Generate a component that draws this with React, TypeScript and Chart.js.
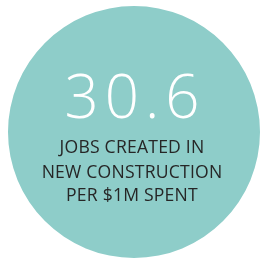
import React, { useEffect, useRef } from "react";
import { Chart, registerables } from "chart.js";

Chart.register(...registerables);

const headlineValue = [30.6];
const sliceLabels = ["Jobs created in new construction per $1M spent"];
const captionLines = ["JOBS CREATED IN", "NEW CONSTRUCTION", "PER $1M SPENT"];
const circleColor = "#8ecdc9";

const textPlugin = {
  id: "centerText",
  afterDraw(chart: any) {
    const ctx = chart.ctx as CanvasRenderingContext2D;
    const meta = chart.getDatasetMeta(0);
    const arc = meta.data[0];
    const cx = arc.x - 2;
    const cy = arc.y;
    ctx.save();
    ctx.textAlign = "center";
    ctx.textBaseline = "alphabetic";
    ctx.fillStyle = "#ffffff";
    ctx.font = "300 60px 'Open Sans'";
    (ctx as any).letterSpacing = "6px";
    ctx.fillText(headlineValue[0].toFixed(1), cx + 3, cy - 14);
    ctx.fillStyle = "#262626";
    ctx.font = "400 17.6px 'Open Sans'";
    (ctx as any).letterSpacing = "0.2px";
    const baselines = [21, 45.5, 69];
    captionLines.forEach((l, i) => ctx.fillText(l, cx, cy + baselines[i]));
    ctx.restore();
  },
};

export default function App() {
  const ref = useRef<HTMLCanvasElement>(null);
  useEffect(() => {
    if (!ref.current) return;
    const chart = new Chart(ref.current, {
      type: "pie",
      data: {
        labels: sliceLabels,
        datasets: [
          {
            data: headlineValue,
            backgroundColor: [circleColor],
            borderWidth: 0,
          },
        ],
      },
      options: {
        animation: false,
        responsive: false,
        layout: { padding: { left: 8, right: 0, top: 6, bottom: 3 } },
        plugins: { legend: { display: false }, tooltip: { enabled: false } },
      },
      plugins: [textPlugin],
    });
    return () => chart.destroy();
  }, []);
  return (
    <div style={{ position: "absolute", left: 0, top: 0, width: 260, height: 261, background: "#fff" }}>
      <canvas ref={ref} width={260} height={261} style={{ width: 260, height: 261 }} />
    </div>
  );
}
